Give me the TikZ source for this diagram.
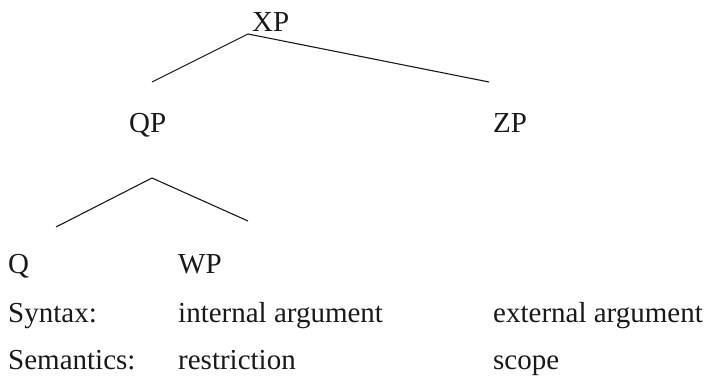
\documentclass[tikz,border=0pt]{standalone}
\usepackage{fontspec}
\setmainfont{Liberation Serif}
\begin{document}
\begin{tikzpicture}[x=1pt,y=1pt,
  lbl/.style={inner sep=0pt,anchor=base west,font=\fontsize{29}{34}\selectfont,text=black!90},
  branch/.style={line width=1.1pt,black!90}]
\useasboundingbox (0,0) rectangle (708,386);
\node[lbl] (XP) at (252,354) {XP};
\node[lbl] (QP) at (129,254) {QP};
\node[lbl] (ZP) at (493,254) {ZP};
\node[lbl] (Q) at (8,113) {Q};
\node[lbl] (WP) at (178,113) {WP};
\node[lbl] (syn) at (8,64) {Syntax:};
\node[lbl] (intarg) at (178,64) {internal argument};
\node[lbl] (extarg) at (493,64) {external argument};
\node[lbl] (sem) at (8,17) {Semantics:};
\node[lbl] (restr) at (178,17) {restriction};
\node[lbl] (scope) at (493,17) {scope};
\coordinate (xptop) at (248,352);
\coordinate (qpend) at (152,304);
\coordinate (zpend) at (489,304);
\coordinate (qptop) at (152,208);
\coordinate (qend) at (56,159);
\coordinate (wpend) at (248,165);
\draw[branch] (qpend) -- (xptop) -- (zpend);
\draw[branch] (qend) -- (qptop) -- (wpend);
\end{tikzpicture}
\end{document}
